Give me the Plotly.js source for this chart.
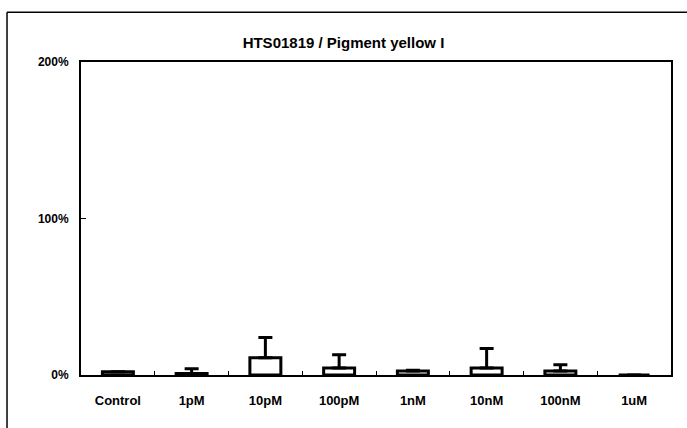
<!DOCTYPE html>
<html>
<head>
<meta charset="utf-8">
<script src="https://cdn.plot.ly/plotly-3.0.1.min.js"></script>
<style>html,body{margin:0;padding:0;background:#fff;}#chart{width:687px;height:428px;}</style>
</head>
<body>
<div id="chart"></div>
<script>
const categories = ["Control", "1pM", "10pM", "100pM", "1nM", "10nM", "100nM", "1uM"];
const meanValues = [2, 1, 11, 4.5, 2.5, 4.5, 2.5, 0];
const errorPlus = [0, 3, 13, 8.5, 0.5, 12.5, 4, 0];
const yTickVals = [0, 100, 200];
const yTickText = ["0%", "100%", "200%"];
const titleText = "HTS01819 / Pigment yellow I";

const fam = "Liberation Sans, Arial, sans-serif";

const trace = {
  type: "bar",
  x: categories,
  y: meanValues,
  width: 0.42,
  marker: {color: "#fff", line: {color: "#000", width: 3}},
  error_y: {type: "data", symmetric: false, array: errorPlus, arrayminus: meanValues.map(() => 0),
            visible: true, color: "#000", thickness: 3, width: 7},
  hoverinfo: "skip"
};

const layout = {
  width: 687, height: 428,
  margin: {l: 81, r: 16, t: 62, b: 53},
  paper_bgcolor: "#fff", plot_bgcolor: "#fff",
  font: {family: fam, size: 12, color: "#000"},
  showlegend: false,
  title: {text: "<b>" + titleText + "</b>", x: 0.5, xanchor: "center", y: 0.9, yanchor: "middle",
          font: {family: fam, size: 15, color: "#000"}},
  xaxis: {type: "category", showline: true, linecolor: "#000", linewidth: 2, mirror: true,
          ticks: "inside", tickson: "boundaries", ticklen: 4, tickcolor: "#000", tickwidth: 1,
          showgrid: false, zeroline: false, ticklabelstandoff: 12,
          tickfont: {family: fam, size: 13, color: "#000", weight: "bold"}},
  yaxis: {range: [0, 200], tickvals: yTickVals, ticktext: yTickText, showline: true, linecolor: "#000",
          linewidth: 2, mirror: true, ticks: "inside", ticklen: 5, tickcolor: "#000", tickwidth: 1,
          showgrid: false, zeroline: false, ticklabelstandoff: 8,
          tickfont: {family: fam, size: 12, color: "#000", weight: "bold"}},
  shapes: [
    {type: "line", xref: "paper", yref: "paper", x0: -0.1254, x1: 1.03, y0: 1.159, y1: 1.159,
     line: {color: "#000", width: 1.5}},
    {type: "line", xref: "paper", yref: "paper", x0: -0.1254, x1: -0.1254, y0: 1.159, y1: -0.17,
     line: {color: "#000", width: 1.5}}
  ]
};

Plotly.newPlot("chart", [trace], layout, {staticPlot: true, displayModeBar: false});
</script>
</body>
</html>
